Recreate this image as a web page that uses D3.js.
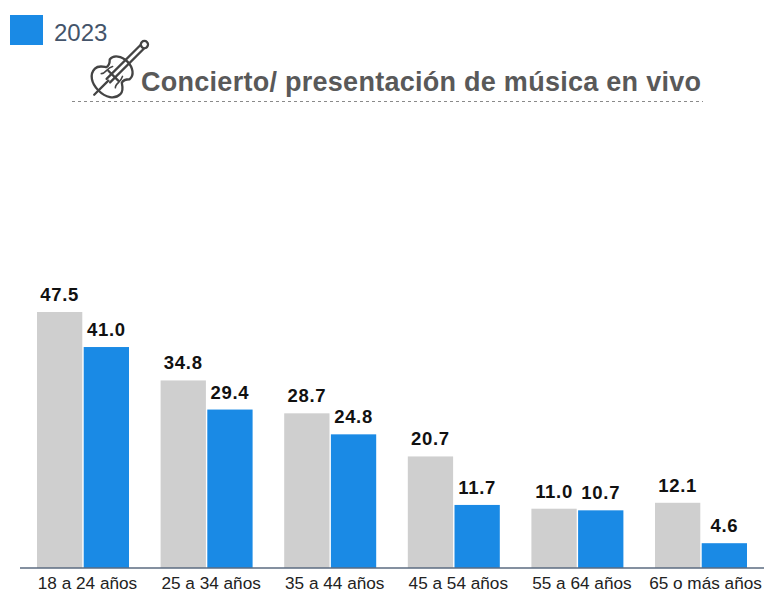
<!DOCTYPE html>
<html>
<head>
<meta charset="utf-8">
<script src="https://cdn.jsdelivr.net/npm/d3@7"></script>
<style>
  html, body { margin: 0; padding: 0; background: #fff; }
</style>
</head>
<body>
<div id="chart"></div>
<script>
const categories = ["18 a 24 años", "25 a 34 años", "35 a 44 años", "45 a 54 años", "55 a 64 años", "65 o más años"];
const seriesNames = ["2022", "2023"];
const values2022 = [47.5, 34.8, 28.7, 20.7, 11.0, 12.1];
const values2023 = [41.0, 29.4, 24.8, 11.7, 10.7, 4.6];
const seriesColors = ["#cfcfcf", "#1a8ae5"];

const width = 764, height = 594;
const baseline = 568;

const svg = d3.select("#chart").append("svg")
  .attr("width", width)
  .attr("height", height)
  .style("display", "block")
  .style("font-family", "'Liberation Sans', Arial, sans-serif");

const x0 = d3.scaleBand().domain(categories).range([37, 747]).paddingInner(0.2557);
const x1 = d3.scaleBand().domain(seriesNames).range([0, x0.bandwidth()]).paddingInner(0.03);
const y = d3.scaleLinear().domain([0, 47.5]).range([baseline, 312]);

const rows = categories.map((c, i) => ({ cat: c, vals: [values2022[i], values2023[i]] }));

const groups = svg.append("g").selectAll("g").data(rows).join("g")
  .attr("transform", d => `translate(${x0(d.cat)},0)`);

groups.selectAll("rect")
  .data(d => d.vals.map((v, i) => ({ name: seriesNames[i], v, i })))
  .join("rect")
  .attr("x", d => x1(d.name))
  .attr("y", d => y(d.v))
  .attr("width", x1.bandwidth())
  .attr("height", d => baseline - y(d.v))
  .attr("fill", d => seriesColors[d.i]);

groups.selectAll("text")
  .data(d => d.vals.map((v, i) => ({ name: seriesNames[i], v })))
  .join("text")
  .attr("x", d => x1(d.name) + x1.bandwidth() / 2)
  .attr("y", d => y(d.v) - 11)
  .attr("text-anchor", "middle")
  .attr("font-size", 18.5)
  .attr("font-weight", "bold")
  .attr("letter-spacing", 0.7)
  .attr("fill", "#111")
  .text(d => d.v.toFixed(1));

// axis
const axis = svg.append("g")
  .attr("transform", `translate(0,${baseline})`)
  .call(d3.axisBottom(x0).tickSize(0).tickPadding(9));
axis.select(".domain").remove();
axis.selectAll("text")
  .attr("dx", 4.5)
  .attr("font-size", 17.2)
  .attr("font-family", "'Liberation Sans', Arial, sans-serif")
  .attr("fill", "#222");
svg.append("line")
  .attr("x1", 20).attr("x2", 764)
  .attr("y1", baseline).attr("y2", baseline)
  .attr("stroke", "#5b6b80").attr("stroke-width", 1.4);

// legend
svg.append("rect").attr("x", 10).attr("y", 15).attr("width", 33).attr("height", 30).attr("fill", seriesColors[1]);
svg.append("text").attr("x", 54).attr("y", 41).attr("font-size", 24).attr("fill", "#44546a").text(seriesNames[1]);

// title
svg.append("text").attr("x", 141).attr("y", 91)
  .attr("font-size", 27).attr("font-weight", "bold").attr("fill", "#595959")
  .attr("textLength", 560)
  .text("Concierto/ presentación de música en vivo");
svg.append("line")
  .attr("x1", 72).attr("x2", 703).attr("y1", 101.5).attr("y2", 101.5)
  .attr("stroke", "#8a8a8a").attr("stroke-dasharray", "3 3");

// violin icon
const icon = svg.append("g")
  .attr("transform", "translate(114,75) rotate(45)")
  .attr("fill", "none").attr("stroke", "#444").attr("stroke-width", 2.3)
  .attr("stroke-linecap", "round").attr("stroke-linejoin", "round");
icon.append("path").attr("d", "M0,22 C-10,22 -18,17 -18,9 C-18,4 -14,2 -11,0 C-10,-3 -11,-5 -14,-8 C-15,-14 -8,-19 0,-19 C8,-19 15,-14 14,-8 C11,-5 10,-3 11,0 C14,2 18,4 18,9 C18,17 10,22 0,22 Z");
icon.append("path").attr("d", "M-2.5,8 L-2.5,-40 M2.5,8 L2.5,-40 M0,8 L0,28 M-7,1 L7,1");
icon.append("path").attr("stroke-width", 1.6).attr("d", "M-10,8 C-7,6 -10,0 -7,-5 M10,8 C7,6 10,0 7,-5");
icon.append("circle").attr("cx", 0).attr("cy", -43).attr("r", 3.6);
</script>
</body>
</html>
